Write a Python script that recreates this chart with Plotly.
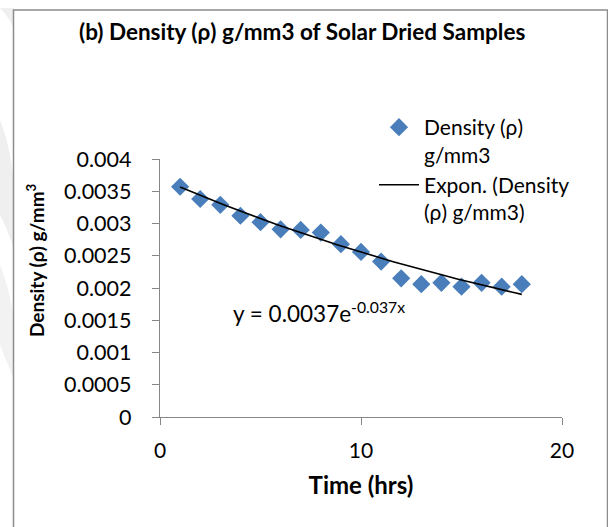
import numpy as np
import plotly.graph_objects as go

# Solar drying: sample density over drying time
time_hrs = [1, 2, 3, 4, 5, 6, 7, 8, 9, 10, 11, 12, 13, 14, 15, 16, 17, 18]
density = [0.00357, 0.00338, 0.00329, 0.00312, 0.00302, 0.00291, 0.00290, 0.00286,
           0.00268, 0.00256, 0.00241, 0.00215, 0.00206, 0.00208, 0.00202, 0.00208,
           0.00202, 0.00206]

# Exponential trendline coefficients (y = a * e^(b x))
trend_a = 0.0037
trend_b = -0.037

x_ticks = [0, 10, 20]
y_ticks = [0, 0.0005, 0.001, 0.0015, 0.002, 0.0025, 0.003, 0.0035, 0.004]
y_tick_text = ["0", "0.0005", "0.001", "0.0015", "0.002", "0.0025", "0.003", "0.0035", "0.004"]

FONT = "Lato"
AXIS_GREY = "#878787"

trend_x = np.linspace(time_hrs[0], time_hrs[-1], 100)
trend_y = trend_a * np.exp(trend_b * trend_x)

fig = go.Figure()
fig.add_trace(go.Scatter(
    x=time_hrs, y=density, mode="markers",
    name="Density (ρ)<br>g/mm3",
    marker=dict(symbol="diamond", size=14, color="#4A7EBB"),
))
fig.add_trace(go.Scatter(
    x=trend_x, y=trend_y, mode="lines",
    name="Expon. (Density<br>(ρ) g/mm3)",
    line=dict(color="black", width=1.6),
))

W, H = 608, 527
ml, mr, mt, mb = 160, 46, 159, 110
pw, ph = W - ml - mr, H - mt - mb


def px_x(p):
    return (p - ml) / pw


def px_y(p):
    return (H - mb - p) / ph


shapes = [
    # faint background arcs outside the chart frame
    dict(type="path", xref="paper", yref="paper", layer="below",
         path=f"M {px_x(0)} {px_y(8)} Q {px_x(10)} {px_y(18)} {px_x(14)} {px_y(30)} "
              f"L {px_x(14)} {px_y(8)} Z",
         fillcolor="#efefef", line=dict(width=0)),
    dict(type="path", xref="paper", yref="paper", layer="below",
         path=f"M {px_x(0)} {px_y(120)} Q {px_x(12)} {px_y(150)} {px_x(14)} {px_y(190)} "
              f"L {px_x(14)} {px_y(250)} Q {px_x(8)} {px_y(230)} {px_x(0)} {px_y(215)} Z",
         fillcolor="#efefef", line=dict(width=0)),
    dict(type="path", xref="paper", yref="paper", layer="below",
         path=f"M {px_x(0)} {px_y(265)} Q {px_x(10)} {px_y(290)} {px_x(14)} {px_y(320)} "
              f"L {px_x(14)} {px_y(380)} Q {px_x(6)} {px_y(360)} {px_x(0)} {px_y(345)} Z",
         fillcolor="#f2f2f2", line=dict(width=0)),
    # chart frame
    dict(type="rect", xref="paper", yref="paper",
         x0=px_x(13.5), x1=px_x(607.5), y0=px_y(540), y1=px_y(10),
         line=dict(color="#8c8c8c", width=1.5), fillcolor="rgba(0,0,0,0)"),
]

annotations = [
    dict(text="<b>(b) Density (ρ) g/mm3 of Solar Dried Samples</b>",
         xref="paper", yref="paper", x=px_x(302), y=px_y(31),
         showarrow=False, font=dict(family=FONT, size=22.5, color="black"),
         xanchor="center", yanchor="middle"),
    dict(text="<b>Density (ρ) g/mm<sup>3</sup></b>",
         xref="paper", yref="paper", x=px_x(35), y=px_y(260),
         showarrow=False, textangle=-90, font=dict(family=FONT, size=19, color="black"),
         xanchor="center", yanchor="middle"),
    dict(text=f"y = {trend_a}e<sup>{trend_b}x</sup>",
         xref="paper", yref="paper", x=px_x(231), y=px_y(312),
         showarrow=False, font=dict(family=FONT, size=22.5, color="black"),
         xanchor="left", yanchor="middle"),
]

fig.update_layout(
    width=W, height=H,
    margin=dict(l=ml, r=mr, t=mt, b=mb),
    paper_bgcolor="white", plot_bgcolor="white",
    font=dict(family=FONT, color="black"),
    showlegend=True,
    legend=dict(x=px_x(374), y=px_y(107), xanchor="left", yanchor="top",
                font=dict(family=FONT, size=21, color="black"),
                bgcolor="rgba(0,0,0,0)", valign="top", tracegroupgap=0,
                itemwidth=40),
    shapes=shapes,
    annotations=annotations,
)
fig.update_xaxes(
    range=[0, 20], tickvals=x_ticks, ticks="outside", ticklen=7, tickcolor=AXIS_GREY,
    showline=True, linecolor=AXIS_GREY, linewidth=1.3, showgrid=False, zeroline=False,
    tickfont=dict(family=FONT, size=21, color="black"), ticklabelstandoff=8,
    title=dict(text="<b>Time (hrs)</b>", font=dict(family=FONT, size=24, color="black"), standoff=15),
)
fig.update_yaxes(
    range=[0, 0.004], tickvals=y_ticks, ticktext=y_tick_text, ticks="outside", ticklen=7,
    tickcolor=AXIS_GREY, showline=True, linecolor=AXIS_GREY, linewidth=1.3,
    showgrid=False, zeroline=False, ticklabelstandoff=16,
    tickfont=dict(family=FONT, size=21.5, color="black"),
)

fig.write_html("out.html")
